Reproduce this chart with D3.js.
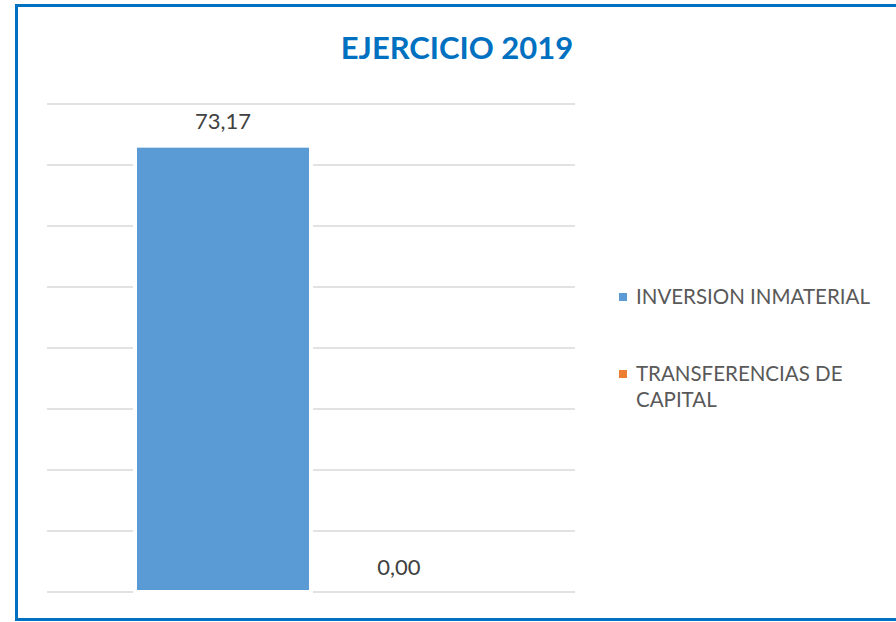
<!DOCTYPE html>
<meta charset="utf-8">
<script src="https://d3js.org/d3.v7.min.js"></script>
<style>
  body { margin: 0; background: #fff; }
  svg { display: block; font-family: Lato, "Open Sans", sans-serif; }
</style>
<svg id="chart" width="896" height="622"></svg>
<script>

// Data
var title = "EJERCICIO 2019";
var series = ["INVERSION INMATERIAL", "TRANSFERENCIAS DE CAPITAL"];
var values = [73.17, 0.00];
var colors = ["#5B9BD5", "#ED7D31"];
var yTicks = [0, 10, 20, 30, 40, 50, 60, 70, 80];

var svg = d3.select("#chart");

// Frame
svg.append("rect")
  .attr("x", 16.5).attr("y", 5.5)
  .attr("width", 900).attr("height", 614)
  .attr("fill", "#fff")
  .attr("stroke", "#0070C0")
  .attr("stroke-width", 3);

// Title
svg.append("text")
  .attr("x", 457).attr("y", 59)
  .attr("text-anchor", "middle")
  .attr("fill", "#0070C0")
  .attr("font-size", 31)
  .attr("font-weight", "bold")
  .text(title);

// Scales
var plot = { left: 47, right: 575, top: 104, bottom: 592 };

var x = d3.scaleBand()
  .domain(series)
  .range([plot.left, plot.right])
  .paddingInner(0)
  .paddingOuter(0.5);

var y = d3.scaleLinear()
  .domain([0, 80])
  .range([plot.bottom, plot.top]);

// Gridlines
svg.append("g")
  .selectAll("line")
  .data(yTicks)
  .enter()
  .append("line")
    .attr("x1", plot.left).attr("x2", plot.right)
    .attr("y1", function(d){ return y(d) })
    .attr("y2", function(d){ return y(d) })
    .attr("stroke", "#d9d9d9")
    .attr("stroke-width", 1.5);

// Bars
svg.append("g")
  .selectAll("rect")
  .data(values)
  .enter()
  .append("rect")
    .attr("x", function(d, i){ return x(series[i]) })
    .attr("width", x.bandwidth())
    .attr("y", function(d){ return y(d) })
    .attr("height", function(d){ return y(0) - y(d) })
    .attr("fill", function(d, i){ return colors[i] })
    .attr("stroke", "#fff")
    .attr("stroke-width", 4);

// Value labels
svg.append("g")
  .selectAll("text")
  .data(values)
  .enter()
  .append("text")
    .attr("x", function(d, i){ return x(series[i]) + x.bandwidth() / 2 })
    .attr("y", function(d){ return y(d) - 17 })
    .attr("text-anchor", "middle")
    .attr("fill", "#404040")
    .attr("font-size", 22)
    .text(function(d){ return d.toFixed(2).replace(".", ",") });

// Legend
var legendLines = [["INVERSION INMATERIAL"], ["TRANSFERENCIAS DE", "CAPITAL"]];
var legendY = [304, 381];

var legend = svg.append("g")
  .selectAll("g")
  .data(series)
  .enter()
  .append("g")
    .attr("transform", function(d, i){ return "translate(619," + legendY[i] + ")" });

legend.append("rect")
  .attr("x", 0).attr("y", -11)
  .attr("width", 8).attr("height", 8)
  .attr("fill", function(d, i){ return colors[i] });

legend.append("text")
  .attr("fill", "#595959")
  .attr("font-size", 20.5)
  .each(function(d, i){
    var t = d3.select(this);
    legendLines[i].forEach(function(line, j){
      t.append("tspan")
        .attr("x", 17)
        .attr("y", j * 26)
        .text(line);
    });
  });

</script>
